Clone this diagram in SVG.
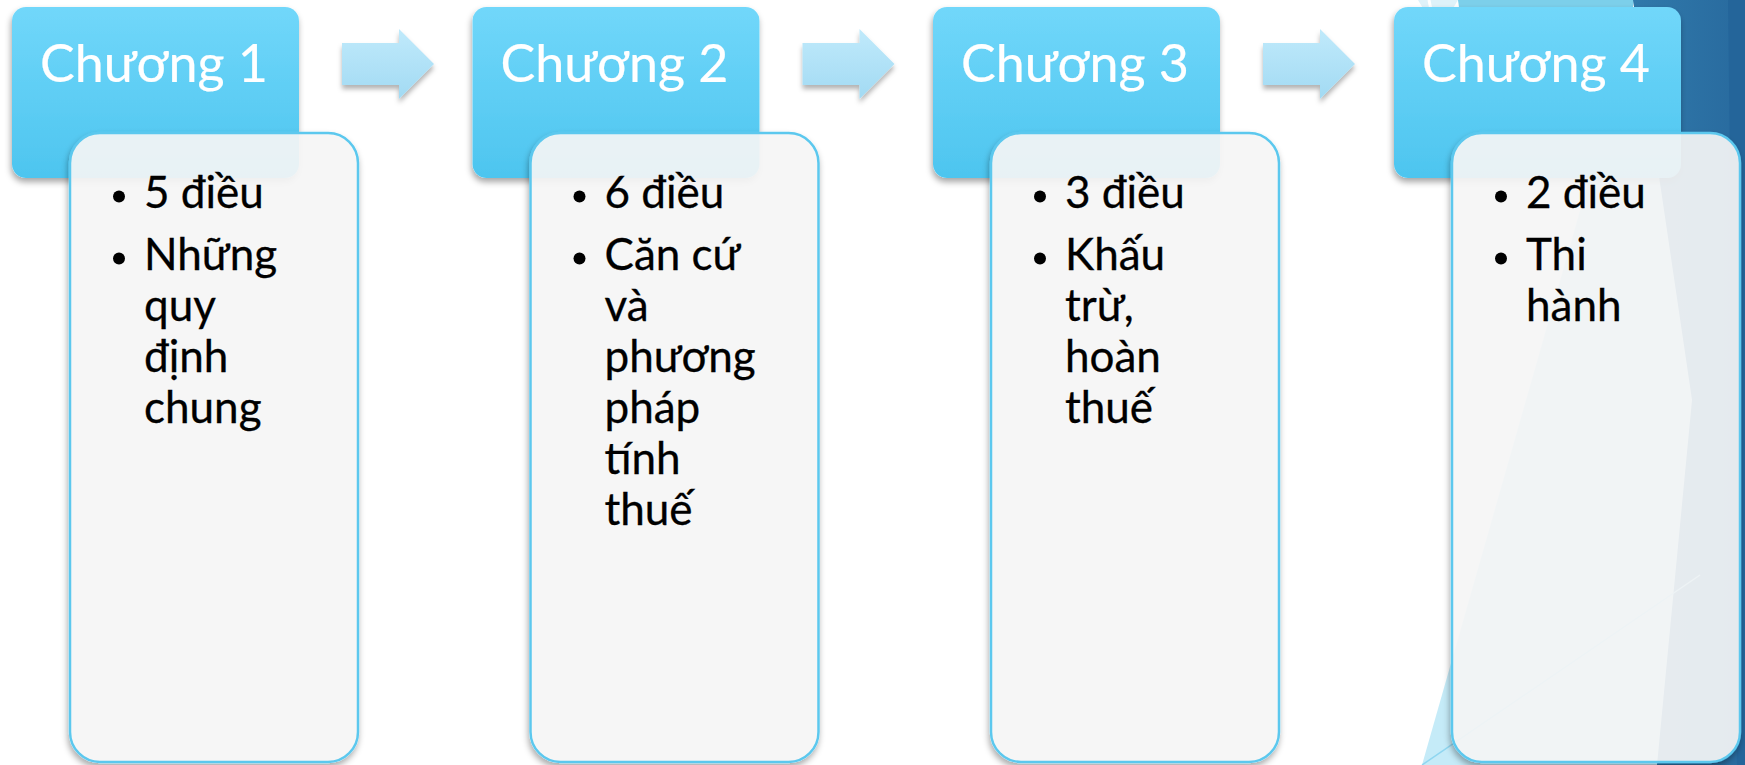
<svg xmlns="http://www.w3.org/2000/svg" width="1745" height="765" viewBox="0 0 1745 765">
  <defs>
    <linearGradient id="hdrGrad" x1="0" y1="0" x2="0" y2="1">
      <stop offset="0" stop-color="#71d7fa"/>
      <stop offset="1" stop-color="#4dc5ef"/>
    </linearGradient>
    <linearGradient id="arrGrad" x1="0" y1="0" x2="0" y2="1">
      <stop offset="0" stop-color="#c0eafb"/>
      <stop offset="1" stop-color="#a2daf3"/>
    </linearGradient>
    <linearGradient id="darkGrad" x1="0" y1="0" x2="1" y2="0">
      <stop offset="0" stop-color="#3079ab"/>
      <stop offset="1" stop-color="#286a9e"/>
    </linearGradient>
    <filter id="shadow" x="-20%" y="-20%" width="140%" height="140%">
      <feGaussianBlur in="SourceAlpha" stdDeviation="3" result="b"/>
      <feOffset in="b" dx="-1" dy="4" result="o"/>
      <feFlood flood-color="#000" flood-opacity="0.35"/>
      <feComposite in2="o" operator="in" result="s"/>
      <feComposite in="s" in2="SourceAlpha" operator="out" result="so"/>
      <feMerge>
        <feMergeNode in="so"/>
        <feMergeNode in="SourceGraphic"/>
      </feMerge>
    </filter>
    <filter id="shadowArrow" x="-20%" y="-20%" width="140%" height="160%">
      <feDropShadow dx="0" dy="4" stdDeviation="2.5" flood-color="#000" flood-opacity="0.3"/>
    </filter>
    <style>
      .hdr { fill: url(#hdrGrad); filter: url(#shadow); }
      .hdrText { font-family: Lato, "DejaVu Sans", sans-serif; font-size: 52px; fill: #ffffff; stroke: #ffffff; stroke-width: 0.2; text-anchor: middle; }
      .detail { fill: #f5f5f5; fill-opacity: 0.92; stroke: #5bc8ee; stroke-width: 2.5; filter: url(#shadow); }
      .body { font-family: Lato, "DejaVu Sans", sans-serif; font-size: 44px; fill: #000000; stroke: #000000; stroke-width: 0.3; }
      .arrow { fill: url(#arrGrad); filter: url(#shadowArrow); }
      .dot { fill: #000000; }
    </style>
  </defs>

  <!-- background -->
  <rect x="0" y="0" width="1745" height="765" fill="#ffffff"/>
  <g id="background-facets">
    <polygon points="1422,765 1640,0 1745,0 1745,765" fill="#c5ebf8"/>
    <polygon points="1418,0 1458,0 1452,10 1424,10" fill="#dff2f9"/>
    <line x1="1429" y1="0" x2="1431" y2="10" stroke="#ffffff" stroke-width="3"/>
    <polygon points="1458,0 1634,0 1610,160 1480,160" fill="#7ccfea"/>
    <polygon points="1633,0 1745,0 1745,765 1657,765 1692,400" fill="url(#darkGrad)"/>
    <polygon points="1728,0 1745,0 1745,765 1737,765" fill="#24659a"/>
    <line x1="1422" y1="765" x2="1700" y2="575" stroke="#8fd6f0" stroke-width="1.5"/>
  </g>

  <!-- connectors (arrows) -->
  <g id="connectors">
    <polygon class="arrow" points="342,43 399,43 399,29 434,64 399,99 399,85 342,85"/>
    <polygon class="arrow" points="802.5,43 859.5,43 859.5,29 894.5,64 859.5,99 859.5,85 802.5,85"/>
    <polygon class="arrow" points="1263,43 1320,43 1320,29 1355,64 1320,99 1320,85 1263,85"/>
  </g>

  <!-- Chương 1 -->
  <g id="node-chuong1">
    <rect class="hdr" x="12" y="7" width="287" height="171" rx="14"/>
    <text class="hdrText" x="154" y="82">Chương 1</text>
    <rect class="detail" x="70" y="133" width="288" height="629" rx="30"/>
    <circle class="dot" cx="119" cy="196.5" r="6"/>
    <circle class="dot" cx="119" cy="258.5" r="6"/>
    <text class="body" x="144" y="208">5 điều</text>
    <text class="body" x="144" y="270">Những</text>
    <text class="body" x="144" y="321">quy</text>
    <text class="body" x="144" y="372">định</text>
    <text class="body" x="144" y="423">chung</text>
  </g>

  <!-- Chương 2 -->
  <g id="node-chuong2">
    <rect class="hdr" x="472.5" y="7" width="287" height="171" rx="14"/>
    <text class="hdrText" x="614.5" y="82">Chương 2</text>
    <rect class="detail" x="530.5" y="133" width="288" height="629" rx="30"/>
    <circle class="dot" cx="579.5" cy="196.5" r="6"/>
    <circle class="dot" cx="579.5" cy="258.5" r="6"/>
    <text class="body" x="604.5" y="208">6 điều</text>
    <text class="body" x="604.5" y="270">Căn cứ</text>
    <text class="body" x="604.5" y="321">và</text>
    <text class="body" x="604.5" y="372">phương</text>
    <text class="body" x="604.5" y="423">pháp</text>
    <text class="body" x="604.5" y="474">tính</text>
    <text class="body" x="604.5" y="525">thuế</text>
  </g>

  <!-- Chương 3 -->
  <g id="node-chuong3">
    <rect class="hdr" x="933" y="7" width="287" height="171" rx="14"/>
    <text class="hdrText" x="1075" y="82">Chương 3</text>
    <rect class="detail" x="991" y="133" width="288" height="629" rx="30"/>
    <circle class="dot" cx="1040" cy="196.5" r="6"/>
    <circle class="dot" cx="1040" cy="258.5" r="6"/>
    <text class="body" x="1065" y="208">3 điều</text>
    <text class="body" x="1065" y="270">Khấu</text>
    <text class="body" x="1065" y="321">trừ,</text>
    <text class="body" x="1065" y="372">hoàn</text>
    <text class="body" x="1065" y="423">thuế</text>
  </g>

  <!-- Chương 4 -->
  <g id="node-chuong4">
    <rect class="hdr" x="1394" y="7" width="287" height="171" rx="14"/>
    <text class="hdrText" x="1536" y="82">Chương 4</text>
    <rect class="detail" x="1452" y="133" width="288" height="629" rx="30"/>
    <circle class="dot" cx="1501" cy="196.5" r="6"/>
    <circle class="dot" cx="1501" cy="258.5" r="6"/>
    <text class="body" x="1526" y="208">2 điều</text>
    <text class="body" x="1526" y="270">Thi</text>
    <text class="body" x="1526" y="321">hành</text>
  </g>
</svg>
